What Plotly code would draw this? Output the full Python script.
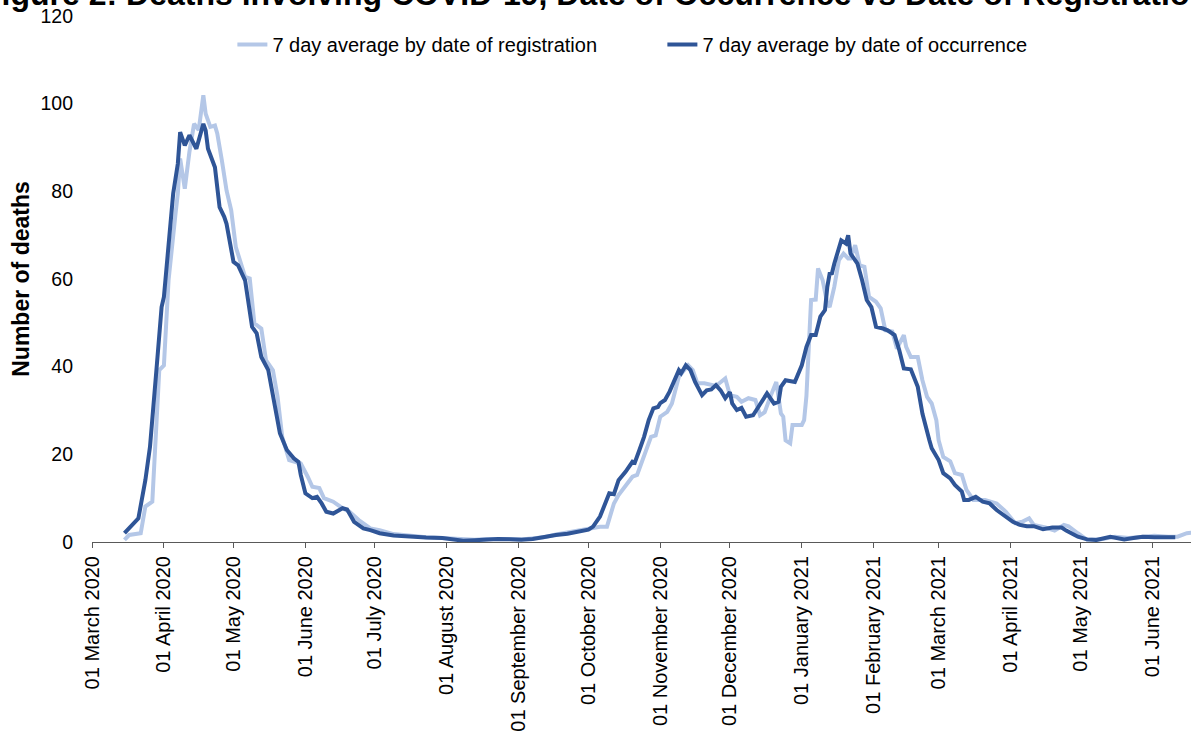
import plotly.graph_objects as go

# ---- data: 7 day averages (number of deaths) ----
reg_dates = [
    "2020-03-15", "2020-03-17", "2020-03-22", "2020-03-24", "2020-03-27", "2020-03-30", "2020-04-01",
    "2020-04-03", "2020-04-06", "2020-04-07", "2020-04-08", "2020-04-10", "2020-04-12", "2020-04-14",
    "2020-04-16", "2020-04-18", "2020-04-19", "2020-04-21", "2020-04-23", "2020-04-24", "2020-04-26",
    "2020-04-28", "2020-04-30", "2020-05-02", "2020-05-06", "2020-05-08", "2020-05-10", "2020-05-13",
    "2020-05-15", "2020-05-18", "2020-05-20", "2020-05-22", "2020-05-25", "2020-05-30", "2020-06-02",
    "2020-06-04", "2020-06-07", "2020-06-09", "2020-06-13", "2020-06-17", "2020-06-20", "2020-06-24",
    "2020-06-29", "2020-07-03", "2020-07-09", "2020-07-16", "2020-07-23", "2020-07-30", "2020-08-03",
    "2020-08-08", "2020-08-13", "2020-08-18", "2020-08-23", "2020-08-28", "2020-09-02", "2020-09-07",
    "2020-09-12", "2020-09-17", "2020-09-22", "2020-09-27", "2020-10-01", "2020-10-06", "2020-10-09",
    "2020-10-12", "2020-10-14", "2020-10-17", "2020-10-20", "2020-10-22", "2020-10-25", "2020-10-28",
    "2020-10-30", "2020-11-01", "2020-11-04", "2020-11-06", "2020-11-09", "2020-11-13", "2020-11-15",
    "2020-11-17", "2020-11-20", "2020-11-25", "2020-11-29", "2020-12-01", "2020-12-04", "2020-12-06",
    "2020-12-09", "2020-12-12", "2020-12-14", "2020-12-16", "2020-12-19", "2020-12-21", "2020-12-23",
    "2020-12-24", "2020-12-25", "2020-12-27", "2020-12-28", "2021-01-01", "2021-01-02", "2021-01-03",
    "2021-01-05", "2021-01-07", "2021-01-08", "2021-01-10", "2021-01-12", "2021-01-13", "2021-01-15",
    "2021-01-17", "2021-01-19", "2021-01-21", "2021-01-22", "2021-01-24", "2021-01-26", "2021-01-28",
    "2021-01-30", "2021-02-02", "2021-02-04", "2021-02-06", "2021-02-09", "2021-02-11", "2021-02-14",
    "2021-02-15", "2021-02-17", "2021-02-20", "2021-02-22", "2021-02-24", "2021-02-26", "2021-02-28",
    "2021-03-01", "2021-03-03", "2021-03-06", "2021-03-08", "2021-03-11", "2021-03-13", "2021-03-16",
    "2021-03-21", "2021-03-26", "2021-03-30", "2021-04-03", "2021-04-06", "2021-04-09", "2021-04-11",
    "2021-04-16", "2021-04-20", "2021-04-24", "2021-04-26", "2021-04-30", "2021-05-04", "2021-05-10",
    "2021-05-16", "2021-05-22", "2021-05-27", "2021-06-02", "2021-06-08", "2021-06-12", "2021-06-16",
    "2021-06-18",
]
reg_values = [
    0.5, 1.6, 2.0, 8.1, 9.2, 39.2, 40.3,
    59.7, 74.9, 79.5, 87.5, 80.6, 89.0, 95.4,
    94.0, 101.9, 97.7, 94.7, 95.0, 93.2, 87.0,
    80.2, 75.7, 67.3, 60.5, 60.1, 49.9, 48.7,
    41.5, 39.2, 33.1, 24.0, 18.7, 17.9, 14.9,
    12.6, 12.3, 10.0, 9.2, 7.7, 6.9, 5.0,
    3.1, 2.7, 1.8, 1.4, 1.1, 0.9, 0.8,
    0.5, 0.5, 0.7, 0.8, 0.7, 0.6, 0.8,
    1.1, 1.7, 2.2, 2.6, 3.0, 3.5, 3.5,
    8.8, 10.7, 12.9, 14.9, 15.3, 19.4, 24.0,
    24.3, 28.6, 29.7, 31.6, 37.7, 40.3, 39.2,
    36.2, 36.2, 35.6, 37.3, 33.5, 33.1, 32.0,
    32.8, 32.4, 28.9, 29.6, 33.9, 36.5, 29.3,
    28.6, 23.2, 22.5, 26.7, 26.7, 27.8, 33.3,
    55.2, 55.3, 62.4, 59.7, 54.4, 53.6, 58.2,
    64.3, 65.8, 64.7, 64.7, 67.7, 63.1, 62.8,
    55.9, 54.8, 53.3, 48.3, 48.0, 44.1, 47.2,
    44.5, 42.2, 42.2, 36.9, 33.1, 31.6, 27.8,
    23.2, 19.4, 18.4, 15.7, 15.3, 11.9, 9.6,
    9.6, 8.8, 6.9, 4.3, 4.6, 5.4, 3.9,
    3.3, 2.6, 3.9, 3.6, 2.0, 0.5, 0.6,
    1.2, 0.9, 1.2, 1.4, 1.2, 1.2, 2.0,
    2.1,
]

occ_dates = [
    "2020-03-15", "2020-03-21", "2020-03-24", "2020-03-26", "2020-03-29", "2020-03-31", "2020-04-01",
    "2020-04-03", "2020-04-05", "2020-04-07", "2020-04-08", "2020-04-10", "2020-04-12", "2020-04-15",
    "2020-04-18", "2020-04-19", "2020-04-20", "2020-04-23", "2020-04-25", "2020-04-27", "2020-04-28",
    "2020-05-01", "2020-05-03", "2020-05-06", "2020-05-09", "2020-05-11", "2020-05-13", "2020-05-16",
    "2020-05-18", "2020-05-21", "2020-05-24", "2020-05-27", "2020-05-29", "2020-05-30", "2020-06-01",
    "2020-06-04", "2020-06-06", "2020-06-08", "2020-06-10", "2020-06-13", "2020-06-17", "2020-06-19",
    "2020-06-22", "2020-06-26", "2020-06-29", "2020-07-03", "2020-07-09", "2020-07-16", "2020-07-23",
    "2020-07-30", "2020-08-03", "2020-08-08", "2020-08-13", "2020-08-18", "2020-08-23", "2020-08-28",
    "2020-09-02", "2020-09-07", "2020-09-12", "2020-09-17", "2020-09-22", "2020-09-27", "2020-10-01",
    "2020-10-03", "2020-10-06", "2020-10-10", "2020-10-12", "2020-10-14", "2020-10-17", "2020-10-20",
    "2020-10-21", "2020-10-23", "2020-10-25", "2020-10-27", "2020-10-29", "2020-10-31", "2020-11-01",
    "2020-11-03", "2020-11-05", "2020-11-09", "2020-11-10", "2020-11-12", "2020-11-14", "2020-11-16",
    "2020-11-19", "2020-11-21", "2020-11-23", "2020-11-25", "2020-11-27", "2020-11-29", "2020-12-01",
    "2020-12-02", "2020-12-04", "2020-12-06", "2020-12-08", "2020-12-11", "2020-12-14", "2020-12-17",
    "2020-12-20", "2020-12-22", "2020-12-23", "2020-12-25", "2020-12-29", "2021-01-01", "2021-01-03",
    "2021-01-05", "2021-01-07", "2021-01-09", "2021-01-11", "2021-01-12", "2021-01-13", "2021-01-14",
    "2021-01-15", "2021-01-17", "2021-01-18", "2021-01-20", "2021-01-21", "2021-01-22", "2021-01-25",
    "2021-01-27", "2021-01-29", "2021-01-31", "2021-02-02", "2021-02-05", "2021-02-07", "2021-02-10",
    "2021-02-12", "2021-02-14", "2021-02-17", "2021-02-20", "2021-02-22", "2021-02-25", "2021-02-26",
    "2021-03-01", "2021-03-03", "2021-03-06", "2021-03-08", "2021-03-11", "2021-03-12", "2021-03-14",
    "2021-03-17", "2021-03-20", "2021-03-23", "2021-03-26", "2021-03-30", "2021-04-02", "2021-04-05",
    "2021-04-08", "2021-04-11", "2021-04-15", "2021-04-19", "2021-04-23", "2021-04-25", "2021-04-30",
    "2021-05-04", "2021-05-08", "2021-05-14", "2021-05-20", "2021-05-24", "2021-05-28", "2021-06-02",
    "2021-06-06", "2021-06-11",
]
occ_values = [
    2.0, 5.4, 14.1, 21.7, 40.7, 53.6, 55.9,
    68.8, 79.5, 86.3, 93.5, 90.5, 92.8, 89.7,
    95.4, 93.9, 89.7, 85.5, 76.4, 74.2, 72.6,
    63.9, 63.1, 59.7, 49.1, 47.6, 42.2, 39.2,
    33.1, 24.8, 21.0, 19.1, 18.3, 15.3, 11.1,
    10.0, 10.3, 8.8, 6.9, 6.5, 7.7, 7.4,
    4.6, 3.1, 2.7, 2.0, 1.5, 1.2, 1.0,
    0.9, 0.6, 0.3, 0.4, 0.6, 0.7, 0.6,
    0.5, 0.7, 1.2, 1.6, 1.9, 2.4, 2.8,
    3.5, 5.8, 11.1, 10.9, 14.1, 16.0, 18.3,
    18.1, 21.0, 24.0, 27.8, 30.5, 30.8, 31.7,
    32.4, 34.3, 39.2, 38.5, 40.3, 39.2, 36.5,
    33.5, 34.6, 34.8, 35.8, 34.6, 32.8, 34.2,
    31.6, 30.1, 30.6, 28.6, 28.9, 31.2, 33.9,
    31.6, 32.0, 35.4, 36.9, 36.5, 40.3, 44.5,
    47.2, 47.2, 51.4, 52.9, 58.2, 61.2, 61.3,
    63.5, 67.0, 68.8, 68.1, 70.0, 65.8, 63.5,
    59.7, 55.2, 53.6, 49.1, 48.7, 48.3, 47.2,
    43.8, 39.6, 39.4, 35.4, 29.3, 23.2, 21.4,
    18.7, 15.7, 14.5, 13.0, 11.5, 9.6, 9.6,
    10.3, 9.2, 8.8, 7.3, 5.8, 4.6, 3.9,
    3.6, 3.6, 2.9, 3.3, 3.3, 2.6, 1.2,
    0.6, 0.45, 1.2, 0.6, 0.9, 1.2, 1.1,
    1.2, 1.1,
]

series_names = ["7 day average by date of registration", "7 day average by date of occurrence"]
title_text = "Figure 2: Deaths involving COVID-19, Date of Occurrence vs Date of Registration"
y_title = "Number of deaths"
y_ticks = [0, 20, 40, 60, 80, 100, 120]

FONT = "Liberation Sans, Arial, sans-serif"
LIGHT = "#B4C7E7"
DARK = "#2F5597"

fig = go.Figure()
fig.add_trace(go.Scatter(x=reg_dates, y=reg_values, mode="lines", name=series_names[0],
                         line=dict(color=LIGHT, width=4)))
fig.add_trace(go.Scatter(x=occ_dates, y=occ_values, mode="lines", name=series_names[1],
                         line=dict(color=DARK, width=4)))

fig.update_layout(
    width=1191, height=731,
    margin=dict(l=92, r=0, t=16, b=189, pad=0, autoexpand=False),
    paper_bgcolor="white", plot_bgcolor="white",
    font=dict(family=FONT, color="#000000", size=19),
    title=dict(text=title_text, font=dict(family=FONT, size=32, weight="bold", color="#000000"),
               xref="container", x=0.5, xanchor="center",
               yref="container", y=1 - 5 / 731, yanchor="bottom", automargin=False),
    legend=dict(orientation="h", x=0.519, xanchor="center", y=0.946, yanchor="middle",
                font=dict(family=FONT, size=20, color="#000000"),
                bgcolor="rgba(0,0,0,0)", entrywidth=385),
    showlegend=True,
)
fig.update_xaxes(
    type="date", automargin=False,
    range=["2020-03-01", "2021-06-17 19:00"],
    tick0="2020-03-01", dtick="M1", tickformat="%d %B %Y",
    tickangle=-90, ticks="outside", ticklen=5, tickcolor="#595959",
    showline=True, linecolor="#595959", linewidth=1,
    showgrid=False, zeroline=False,
    tickfont=dict(family=FONT, size=20, color="#000000"),
)
fig.update_yaxes(
    automargin=False,
    range=[0, 120], tickvals=y_ticks,
    showline=False, showgrid=False, zeroline=False, ticks="",
    ticklabelstandoff=18,
    tickfont=dict(family=FONT, size=19.5, color="#000000"),
    title=dict(text=y_title, font=dict(family=FONT, size=23, weight="bold", color="#000000"), standoff=4),
)

fig.write_html(
    "out.html",
    config={"displayModeBar": False},
    post_script="document.body.style.margin='0px';document.body.style.overflow='hidden';",
)
